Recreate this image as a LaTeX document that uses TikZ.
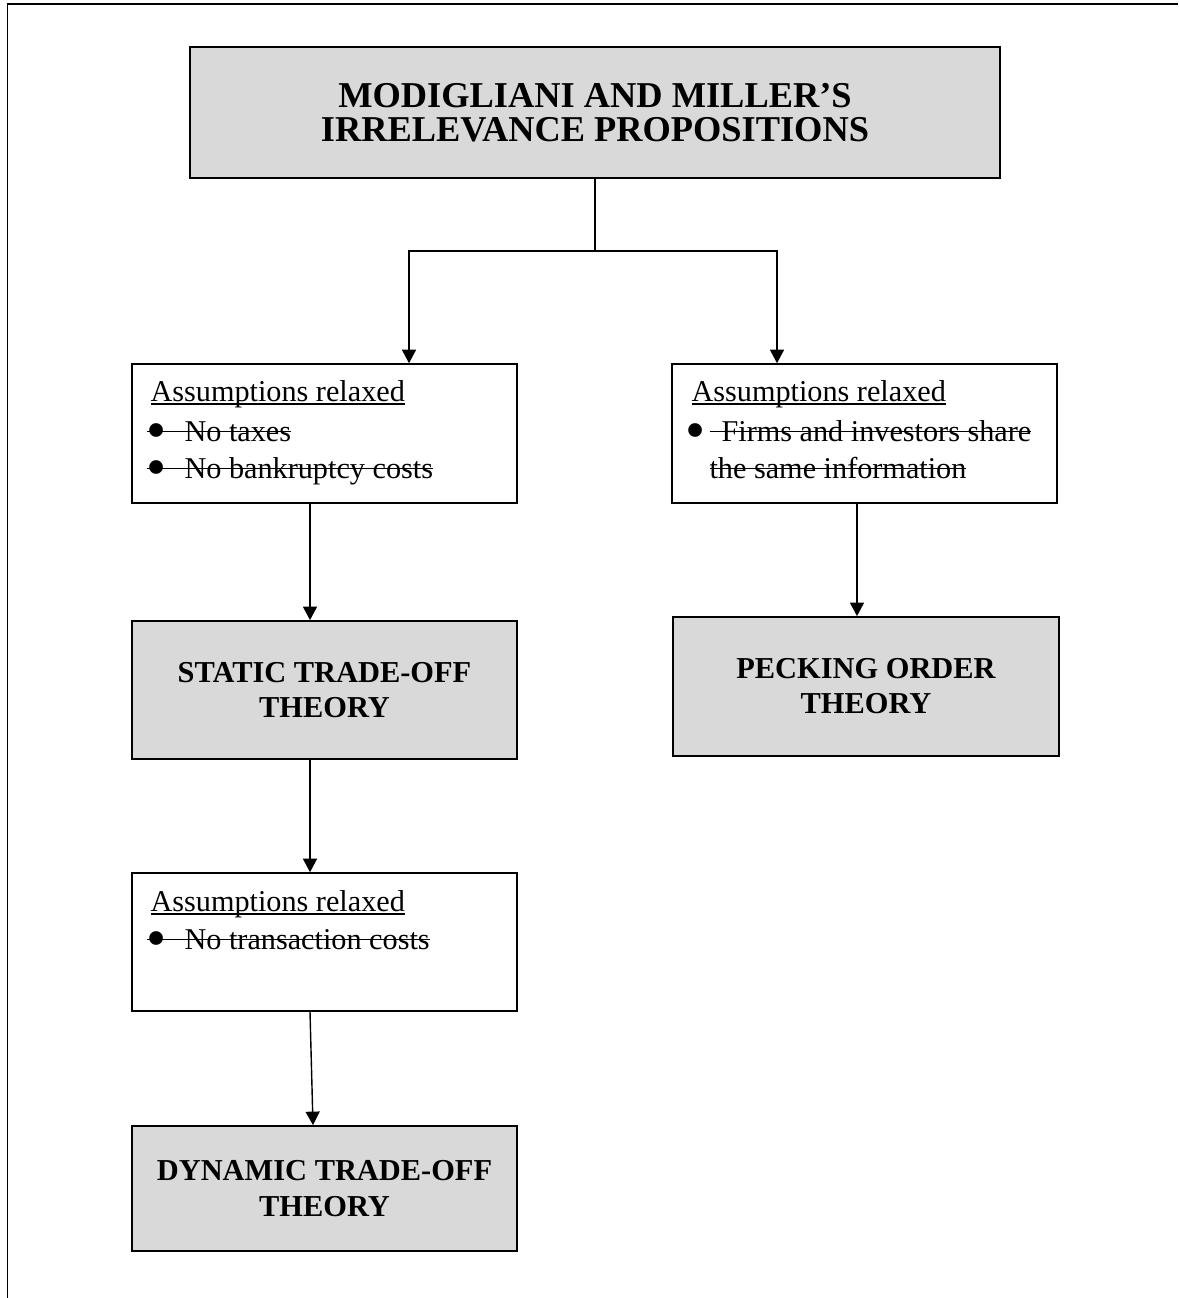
\documentclass[tikz,border=0pt]{standalone}
\usepackage{fontspec}
\setmainfont{Liberation Serif}
\usepackage{xcolor}
\usetikzlibrary{arrows.meta, positioning, calc}

\definecolor{boxgray}{RGB}{217,217,217}

\newlength{\rulelen}
\newcommand{\strk}[1]{\settowidth{\rulelen}{#1}\rlap{\rule[0.65ex]{\rulelen}{0.9pt}}#1}
\newcommand{\ulin}[1]{\settowidth{\rulelen}{#1}\rlap{\rule[-2pt]{\rulelen}{0.9pt}}#1}
\newcommand{\bigdot}{\raisebox{-4.5pt}[0pt][0pt]{\scalebox{1.9}{\textbullet}}}

\tikzset{
  theorybox/.style={draw, line width=1pt, fill=boxgray, minimum width=7.7cm,
    minimum height=2.76cm, align=center, font=\fontsize{17.3}{20}\selectfont\bfseries},
  relaxbox/.style={draw, line width=0.9pt, minimum width=7.7cm, minimum height=2.78cm},
  relaxtxt/.style={anchor=base west, inner sep=0pt, font=\fontsize{17.2}{20}\selectfont},
  flow/.style={line width=0.8pt, -{Triangle[length=2.7mm,width=2.8mm]}},
}

\begin{document}
\begin{tikzpicture}
  \useasboundingbox (0,0) rectangle (23.56,-25.96);
  % page frame
  \draw[line width=0.8pt] (0.15,-25.96) -- (0.15,-0.08) -- (23.56,-0.08);

  % boxes
  \node[theorybox, minimum width=16.2cm, minimum height=2.62cm,
        font=\fontsize{20.7}{19.5}\selectfont\bfseries] (mm) at (11.9,-2.25)
        {MODIGLIANI AND MILLER'S\\IRRELEVANCE PROPOSITIONS};
  \node[relaxbox] (relaxA) at (6.49,-8.67) {};
  \node[relaxbox] (relaxB) at (17.29,-8.67) {};
  \node[theorybox] (static) at (6.49,-13.80) {STATIC TRADE-OFF\\THEORY};
  \node[theorybox, minimum width=7.72cm, minimum height=2.78cm] (pecking)
        at (17.32,-13.73) {PECKING ORDER\\THEORY};
  \node[relaxbox, minimum height=2.76cm] (relaxC) at (6.49,-18.84) {};
  \node[theorybox, minimum height=2.5cm] (dynamic) at (6.49,-23.77)
        {DYNAMIC TRADE-OFF\\THEORY};

  % relaxed assumptions
  \node[relaxtxt] (aHead) at ($(relaxA.north west)+(0.38,-0.76)$) {\ulin{Assumptions relaxed}};
  \node[relaxtxt] (aTax) at ($(relaxA.north west)+(0.30,-1.56)$)
        {\strk{\makebox[0.76cm][l]{\bigdot}No taxes}};
  \node[relaxtxt] (aBank) at ($(relaxA.north west)+(0.30,-2.30)$)
        {\strk{\makebox[0.76cm][l]{\bigdot}No bankruptcy costs}};

  \node[relaxtxt] (bHead) at ($(relaxB.north west)+(0.40,-0.76)$) {\ulin{Assumptions relaxed}};
  \node[relaxtxt] (bInfo) at ($(relaxB.north west)+(0.28,-1.56)$)
        {\makebox[0.48cm][l]{\bigdot}\strk{\hspace{0.24cm}Firms and investors share}};
  \node[relaxtxt] (bInfoTwo) at ($(relaxB.north west)+(0.76,-2.30)$)
        {\strk{the same information}};

  \node[relaxtxt] (cHead) at ($(relaxC.north west)+(0.38,-0.78)$) {\ulin{Assumptions relaxed}};
  \node[relaxtxt] (cTrans) at ($(relaxC.north west)+(0.30,-1.54)$)
        {\strk{\makebox[0.76cm][l]{\bigdot}No transaction costs}};

  % connectors
  \coordinate (forkL) at (8.18,-5.02);
  \coordinate (forkR) at (15.54,-5.02);
  \coordinate (stemA) at (6.2,0);
  \coordinate (stemB) at (17.14,0);
  \coordinate (stemC) at (6.26,0);
  \draw[line width=0.8pt] (mm.south) -- (mm.south |- forkL);
  \draw[flow] (mm.south |- forkL) -- (forkL) -- (relaxA.north -| forkL);
  \draw[flow] (mm.south |- forkR) -- (forkR) -- (relaxB.north -| forkR);
  \draw[flow] (relaxA.south -| stemA) -- (static.north -| stemA);
  \draw[flow] (relaxB.south -| stemB) -- (pecking.north -| stemB);
  \draw[flow] (static.south -| stemA) -- (relaxC.north -| stemA);
  \draw[flow] (relaxC.south -| stemA) -- (dynamic.north -| stemC);
\end{tikzpicture}
\end{document}
